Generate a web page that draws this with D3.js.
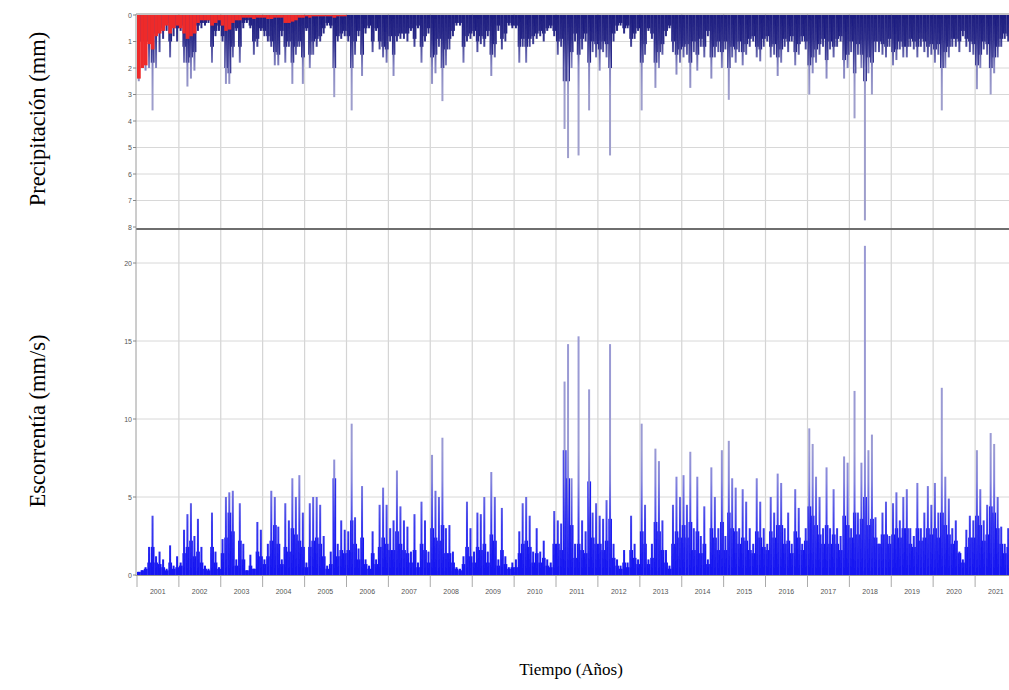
<!DOCTYPE html>
<html lang="es">
<head>
<meta charset="UTF-8">
<script src="https://cdn.jsdelivr.net/npm/d3@7"></script>
<title>Precipitación y escorrentía</title>
<style>
    body { margin: 0; background: #fff; }
    .tick-label { font-family: "Liberation Sans", Arial, sans-serif; font-size: 7px; fill: #555; }
    .title { font-family: "Liberation Serif", "Times New Roman", serif; font-size: 17px; fill: #000; }
    .ytitle { font-size: 22.5px; }
</style>
</head>
<body>
<svg id="chart" width="1009" height="690"></svg>
<script>
/*------------------------- data -------------------------*/
// one row per year, one value per month (Jan..Dec)
const yearLabels = ["2001","2002","2003","2004","2005","2006","2007","2008","2009","2010","2011",
                    "2012","2013","2014","2015","2016","2017","2018","2019","2020","2021"];
const precipTicks = [0, 1, 2, 3, 4, 5, 6, 7, 8];
const runoffTicks = [0, 5, 10, 15, 20];

// precipitation, highest daily value of the month (mm)
const precipPeak = [
    [2.5,1.8,2.1,2.0,3.6,2.0,1.4,0.9,0.6,1.6,0.8,1.0],
    [0.6,1.8,2.7,2.4,2.1,0.6,0.5,0.4,0.3,1.8,0.8,0.6],
    [1.0,2.6,2.6,1.6,0.6,1.8,0.5,0.3,0.5,1.5,1.2,0.6],
    [0.8,1.0,1.2,1.9,1.9,0.8,1.8,1.2,2.6,1.5,1.2,2.6],
    [0.6,2.0,1.5,1.2,1.0,0.7,0.4,0.5,3.1,1.0,0.9,0.8],
    [1.0,3.6,1.5,0.8,2.3,0.7,0.5,1.4,0.6,1.3,1.6,1.8],
    [1.0,2.3,1.0,0.9,0.9,1.0,0.6,1.2,0.5,1.8,1.0,0.7],
    [2.6,2.2,1.2,3.25,1.9,1.3,0.8,0.4,0.4,1.8,1.0,0.9],
    [0.8,1.4,1.1,1.2,0.8,2.3,1.6,0.6,1.3,1.0,0.4,0.5],
    [0.5,1.8,1.2,1.8,1.2,1.1,0.9,0.8,1.0,0.6,0.5,0.8],
    [1.5,1.2,4.3,5.4,2.0,1.0,5.3,1.3,1.0,3.6,1.4,1.6],
    [2.1,1.4,1.6,5.3,1.0,0.6,0.4,0.7,0.5,1.2,0.9,0.6],
    [3.6,1.5,0.6,0.9,2.75,2.0,1.5,0.8,0.5,1.4,2.25,1.8],
    [1.6,1.5,2.75,1.4,2.1,1.2,1.6,0.8,2.4,1.6,1.4,2.0],
    [1.3,3.2,1.6,1.8,1.4,1.9,1.5,1.2,1.0,1.6,1.75,1.2],
    [1.0,1.6,1.5,2.3,1.8,1.2,1.4,1.0,1.9,1.5,1.0,1.3],
    [3.0,2.2,1.8,1.5,1.2,2.4,1.3,1.6,1.2,1.0,2.4,2.0],
    [1.4,3.9,1.5,2.0,7.75,2.2,3.0,1.4,1.4,1.5,1.6,1.2],
    [1.9,1.7,1.3,1.6,1.6,1.2,1.3,1.6,1.2,1.4,1.6,1.5],
    [1.8,1.5,3.6,2.0,1.6,1.2,1.2,1.4,0.8,1.2,1.4,1.5],
    [2.8,2.0,1.3,1.5,3.0,2.2,1.6,1.2,0.9,1.0,0.8,0.8]
];
// precipitation, usual depth of the dense (excess) bars (mm)
const precipBase = [
    [1.0,1.0,1.0,1.0,1.8,0.7,0.6,0.5,0.3,1.0,0.4,0.5],
    [0.4,1.2,1.8,1.6,1.4,0.4,0.3,0.3,0.2,1.2,0.6,0.4],
    [0.8,2.0,2.2,1.2,0.5,1.2,0.3,0.2,0.4,1.0,0.9,0.5],
    [0.6,0.8,1.0,1.4,1.5,0.6,1.2,1.0,1.8,1.2,1.0,1.6],
    [0.5,1.5,1.0,0.9,0.8,0.5,0.3,0.4,2.0,0.8,0.7,0.6],
    [0.8,2.0,1.0,0.6,1.5,0.5,0.4,1.0,0.5,1.0,1.2,1.3],
    [0.8,1.5,0.8,0.7,0.7,0.7,0.5,0.9,0.4,1.2,0.8,0.5],
    [1.6,1.5,0.9,2.0,1.3,0.9,0.6,0.3,0.3,1.2,0.8,0.7],
    [0.6,1.0,0.8,0.9,0.6,1.5,1.1,0.4,0.9,0.7,0.3,0.4],
    [0.4,1.2,0.9,1.2,0.9,0.8,0.7,0.6,0.7,0.5,0.4,0.6],
    [1.0,0.9,2.5,2.5,1.4,0.7,1.5,0.9,0.7,1.8,1.0,1.1],
    [1.3,1.0,1.1,2.0,0.7,0.4,0.3,0.5,0.4,0.9,0.7,0.5],
    [1.8,1.1,0.5,0.7,1.8,1.4,1.1,0.6,0.4,1.0,1.5,1.3],
    [1.2,1.1,1.8,1.0,1.5,0.9,1.2,0.6,1.6,1.2,1.0,1.4],
    [1.0,2.0,1.2,1.3,1.0,1.4,1.1,0.9,0.8,1.2,1.3,0.9],
    [0.8,1.2,1.1,1.6,1.3,0.9,1.0,0.8,1.4,1.1,0.8,1.0],
    [1.9,1.6,1.3,1.1,0.9,1.7,1.0,1.2,0.9,0.8,1.7,1.5],
    [1.0,2.2,1.1,1.5,2.5,1.6,1.8,1.0,1.0,1.1,1.2,0.9],
    [1.4,1.3,1.0,1.2,1.2,0.9,1.0,1.2,0.9,1.0,1.2,1.1],
    [1.3,1.1,2.0,1.4,1.2,0.9,0.9,1.0,0.6,0.9,1.0,1.1],
    [1.9,1.5,1.0,1.1,2.0,1.6,1.2,0.9,0.7,0.8,0.6,0.6]
];
// precipitation loss shown in red, only the first years (mm)
const precipLoss = [
    [2.4,2.0,1.9,1.1,1.3,0.8,0.7,0.6,0.4,0.7,0.5,0.4],
    [0.5,0.7,0.9,0.8,0.7,0.3,0.2,0.2,0.2,0.4,0.3,0.2],
    [0.4,0.6,0.55,0.3,0.2,0.2,0.1,0.1,0.1,0.15,0.1,0.1],
    [0.1,0.15,0.15,0.1,0.1,0.1,0.3,0.3,0.25,0.2,0.1,0.1],
    [0.05,0.1,0.05,0.05,0.05,0.05,0.05,0.05,0.1,0.05,0.05,0.05]
];
// runoff, highest value of the month (mm/s)
const runoffPeak = [
    [0.2,0.3,0.5,1.8,3.8,1.2,1.5,1.0,0.4,1.9,0.6,1.2],
    [0.8,2.9,3.9,4.6,2.5,3.6,1.8,0.6,0.4,4.0,1.5,0.5],
    [2.3,5.0,5.3,5.4,1.0,4.6,2.0,0.3,1.3,0.4,3.4,2.9],
    [1.0,2.0,5.4,5.0,3.1,1.0,4.6,3.5,6.2,5.0,6.4,4.0],
    [0.8,4.6,5.0,5.0,4.5,2.5,0.6,1.5,7.4,2.0,3.5,2.9],
    [2.8,9.7,3.7,1.7,5.7,1.0,0.6,2.8,1.0,4.5,5.6,4.5],
    [3.0,3.5,6.7,4.4,3.5,3.1,1.5,3.9,0.8,4.7,3.5,1.5],
    [7.7,5.4,5.0,8.8,3.0,3.2,1.5,0.5,0.4,1.2,4.7,3.0],
    [1.5,4.0,3.9,5.0,1.5,6.6,5.0,1.0,4.3,1.2,0.5,0.8],
    [1.0,2.8,4.6,5.0,3.8,1.5,3.0,1.5,2.2,1.0,0.8,4.1],
    [3.5,3.3,12.4,14.8,6.2,2.0,15.3,3.5,2.8,11.9,4.0,4.6],
    [3.8,3.6,4.8,14.8,2.0,1.0,0.6,1.6,0.8,3.8,2.0,1.0],
    [9.7,4.5,1.0,2.0,8.1,7.3,3.5,1.6,0.6,4.5,6.3,5.0],
    [6.4,4.5,7.9,3.0,6.3,2.5,4.4,1.0,6.9,5.0,3.0,8.0],
    [2.5,8.6,6.2,5.6,3.0,5.5,4.7,3.0,2.0,6.2,4.7,3.0],
    [2.0,5.0,4.0,6.5,5.9,3.0,4.0,2.0,5.5,4.3,2.0,3.0],
    [9.4,8.4,6.3,5.0,3.0,6.9,3.0,5.5,3.0,2.5,7.6,7.2],
    [3.0,11.8,4.0,7.2,21.1,8.0,9.0,3.7,2.0,4.0,4.7,2.5],
    [4.6,5.3,3.5,5.0,5.5,3.0,2.5,5.9,3.0,4.0,5.7,4.5],
    [5.9,4.0,12.0,6.3,4.9,3.0,3.5,1.5,1.0,2.9,3.8,3.5],
    [8.0,5.5,3.5,4.5,9.1,8.4,5.0,3.1,2.0,3.0,2.5,2.0]
];
// runoff, level of the dense blue part (mm/s)
const runoffBase = [
    [0.2,0.3,0.4,0.8,1.8,0.8,0.7,0.5,0.3,0.8,0.4,0.5],
    [0.6,1.4,1.8,2.2,1.2,1.5,0.8,0.4,0.3,1.8,0.8,0.4],
    [1.4,2.4,4.0,2.8,0.6,2.2,1.0,0.3,0.6,0.4,1.5,1.2],
    [0.7,1.2,2.2,3.2,2.0,0.7,1.8,1.5,3.0,2.6,2.2,1.8],
    [0.5,1.8,2.2,2.4,2.0,1.2,0.4,0.7,6.2,1.2,1.6,1.4],
    [1.6,3.5,2.0,1.0,2.4,0.7,0.4,1.4,0.7,1.8,2.4,2.0],
    [1.6,1.6,2.8,2.0,1.6,1.4,0.8,1.6,0.5,2.0,1.6,0.8],
    [3.0,2.4,2.2,3.2,1.4,1.4,0.8,0.4,0.3,0.7,1.8,1.2],
    [0.8,1.8,1.6,2.0,0.8,2.6,2.2,0.6,1.6,0.7,0.4,0.5],
    [0.5,1.4,2.0,2.2,1.8,0.8,1.4,0.8,1.1,0.6,0.5,2.0],
    [2.0,1.6,8.0,6.2,3.2,1.1,2.0,1.6,1.4,6.0,2.4,2.0],
    [2.0,1.6,2.2,3.6,1.1,0.6,0.4,0.8,0.5,1.6,1.1,0.7],
    [2.8,2.0,0.7,1.1,3.4,2.8,1.6,0.8,0.4,2.0,2.8,2.4],
    [3.2,2.4,3.4,1.6,2.8,1.4,2.0,0.7,3.0,2.4,1.6,3.4],
    [1.6,4.0,3.0,2.8,2.0,2.4,2.2,1.6,1.4,2.8,2.4,1.8],
    [1.6,2.8,2.4,3.2,3.2,2.0,2.2,1.4,2.8,2.4,1.6,2.2],
    [4.4,3.8,3.2,2.6,2.0,3.2,2.0,2.6,2.0,1.6,3.8,3.2],
    [2.4,4.0,2.6,3.6,5.0,3.2,3.6,2.4,2.0,2.6,2.6,2.0],
    [2.6,3.0,2.4,3.0,3.0,2.0,1.8,3.0,2.2,2.4,3.0,2.6],
    [3.0,2.4,4.0,3.2,2.6,2.0,2.2,1.4,0.8,1.8,2.4,2.4],
    [3.8,3.2,2.2,2.6,4.4,4.0,3.0,2.0,1.4,1.8,1.6,1.4]
];

/*------------------------- records ----------------------*/
const months = d3.range(12);
const records = yearLabels.flatMap((yr, i) => months.map(m => ({
    start: new Date(+yr, m, 1),
    end: new Date(+yr, m + 1, 1),
    pPeak: precipPeak[i][m],
    pBase: precipBase[i][m],
    pLoss: precipLoss[i] ? precipLoss[i][m] : 0,
    qPeak: runoffPeak[i][m],
    qBase: runoffBase[i][m]
})));

/*------------------------- scales -----------------------*/
const svg = d3.select("#chart");
const left = 136, right = 1009;
const x = d3.scaleTime()
    .domain([new Date(2001, 0, 1), new Date(2022, 0, 1)])
    .range([137, 1017]);
const yP = d3.scaleLinear().domain([0, 8]).range([15, 227]);     // hyetograph, inverted
const yQ = d3.scaleLinear().domain([0, 20]).range([575, 263]);   // runoff
const sepY = 229;

const defs = svg.append("defs");
defs.append("clipPath").attr("id", "plotclip")
    .append("rect").attr("x", left).attr("y", 12).attr("width", right - left).attr("height", 564);
defs.append("filter").attr("id", "soft")
    .append("feGaussianBlur").attr("stdDeviation", 0.45);

// spikes darken where many daily bars overlap, so shade them by height
const pGrad = defs.append("linearGradient").attr("id", "pGrad")
    .attr("gradientUnits", "userSpaceOnUse")
    .attr("x1", 0).attr("x2", 0).attr("y1", yP(0)).attr("y2", yP(3));
pGrad.selectAll("stop").data([[0, "#1c1c7e"], [0.3, "#34348e"], [0.65, "#8585c2"], [1, "#9e9ecc"]])
    .enter().append("stop").attr("offset", d => d[0]).attr("stop-color", d => d[1]);

const qGrad = defs.append("linearGradient").attr("id", "qGrad")
    .attr("gradientUnits", "userSpaceOnUse")
    .attr("x1", 0).attr("x2", 0).attr("y1", yQ(0)).attr("y2", yQ(8));
qGrad.selectAll("stop").data([[0, "#1414f2"], [0.4, "#3a3aee"], [0.75, "#8484dc"], [1, "#9a9ad4"]])
    .enter().append("stop").attr("offset", d => d[0]).attr("stop-color", d => d[1]);

/*------------------------- grid -------------------------*/
const grid = svg.append("g").attr("clip-path", "url(#plotclip)");
const yearStarts = yearLabels.map(yr => new Date(+yr, 0, 1)).concat([new Date(2022, 0, 1)]);

grid.selectAll("line.vgrid").data(yearStarts.slice(1)).enter().append("line")
    .attr("x1", d => x(d)).attr("x2", d => x(d))
    .attr("y1", 14).attr("y2", 575)
    .attr("stroke", "#d4d4d4").attr("stroke-width", 1.2);

grid.selectAll("line.pgrid").data(precipTicks.slice(1, -1)).enter().append("line")
    .attr("x1", left).attr("x2", right)
    .attr("y1", d => yP(d)).attr("y2", d => yP(d))
    .attr("stroke", "#d8d8d8").attr("stroke-width", 1);

grid.selectAll("line.qgrid").data(runoffTicks.slice(1)).enter().append("line")
    .attr("x1", left).attr("x2", right)
    .attr("y1", d => yQ(d)).attr("y2", d => yQ(d))
    .attr("stroke", "#d8d8d8").attr("stroke-width", 1);

/*------------------------- marks ------------------------*/
const marks = svg.append("g").attr("clip-path", "url(#plotclip)")
    .append("g").attr("filter", "url(#soft)");
const mid = d => x(new Date((+d.start + +d.end) / 2));
const spikeW = 2;

// precipitation: spikes, dense navy part, red loss on top
marks.selectAll("rect.pBase").data(records).enter().append("rect")
    .attr("x", d => x(d.start)).attr("width", d => x(d.end) - x(d.start) + 0.2)
    .attr("y", yP(0)).attr("height", d => yP(d.pBase) - yP(0))
    .attr("fill", "#1f1f82");

marks.selectAll("rect.pPeak").data(records).enter().append("rect")
    .attr("x", d => mid(d) - spikeW / 2).attr("width", spikeW)
    .attr("y", yP(0)).attr("height", d => yP(d.pPeak) - yP(0))
    .attr("fill", "url(#pGrad)");

marks.selectAll("rect.pLoss").data(records.filter(d => d.pLoss > 0)).enter().append("rect")
    .attr("x", d => x(d.start)).attr("width", d => x(d.end) - x(d.start) + 0.2)
    .attr("y", yP(0)).attr("height", d => yP(d.pLoss) - yP(0))
    .attr("fill", "#ee2b2b");

// runoff: dense blue part and spikes
marks.selectAll("rect.qBase").data(records).enter().append("rect")
    .attr("x", d => x(d.start)).attr("width", d => x(d.end) - x(d.start) + 0.2)
    .attr("y", d => yQ(d.qBase)).attr("height", d => yQ(0) - yQ(d.qBase))
    .attr("fill", "#1414f2");

marks.selectAll("rect.qPeak").data(records).enter().append("rect")
    .attr("x", d => mid(d) - spikeW / 2).attr("width", spikeW)
    .attr("y", d => yQ(d.qPeak)).attr("height", d => yQ(0) - yQ(d.qPeak))
    .attr("fill", "url(#qGrad)");

/*------------------------- frame & axes -----------------*/
svg.append("line").attr("x1", left).attr("x2", right).attr("y1", 14).attr("y2", 14)
    .attr("stroke", "#8a8a8a").attr("stroke-width", 1.2);
svg.append("line").attr("x1", left).attr("x2", right).attr("y1", sepY).attr("y2", sepY)
    .attr("stroke", "#6e6e6e").attr("stroke-width", 2.2);
svg.append("line").attr("x1", left).attr("x2", left).attr("y1", 14).attr("y2", 576)
    .attr("stroke", "#9a9a9a").attr("stroke-width", 1);
svg.append("line").attr("x1", left).attr("x2", right).attr("y1", 575.5).attr("y2", 575.5)
    .attr("stroke", "#9a9a9a").attr("stroke-width", 1);

svg.selectAll("text.pTick").data(precipTicks).enter().append("text")
    .attr("class", "tick-label")
    .attr("x", 132).attr("y", d => yP(d) + 2.5)
    .attr("text-anchor", "end")
    .text(d => d);
svg.selectAll("line.pTickMark").data(precipTicks).enter().append("line")
    .attr("x1", 133).attr("x2", left).attr("y1", d => yP(d)).attr("y2", d => yP(d))
    .attr("stroke", "#888");

svg.selectAll("text.qTick").data(runoffTicks).enter().append("text")
    .attr("class", "tick-label")
    .attr("x", 132).attr("y", d => yQ(d) + 2.5)
    .attr("text-anchor", "end")
    .text(d => d);
svg.selectAll("line.qTickMark").data(runoffTicks).enter().append("line")
    .attr("x1", 133).attr("x2", left).attr("y1", d => yQ(d)).attr("y2", d => yQ(d))
    .attr("stroke", "#888");

svg.selectAll("line.xTick").data(yearStarts.filter(d => x(d) <= right)).enter().append("line")
    .attr("x1", d => x(d)).attr("x2", d => x(d))
    .attr("y1", 576).attr("y2", 587)
    .attr("stroke", "#aaa");

svg.selectAll("text.year").data(yearLabels).enter().append("text")
    .attr("class", "tick-label")
    .attr("x", d => x(new Date(+d, 6, 1)))
    .attr("y", 594)
    .attr("text-anchor", "middle")
    .text(d => d);

/*------------------------- titles -----------------------*/
svg.append("text").attr("class", "title ytitle")
    .attr("transform", "translate(45,119) rotate(-90)")
    .attr("text-anchor", "middle")
    .text("Precipitación (mm)");
svg.append("text").attr("class", "title ytitle")
    .attr("transform", "translate(45,421) rotate(-90)")
    .attr("text-anchor", "middle")
    .text("Escorrentía (mm/s)");
svg.append("text").attr("class", "title")
    .attr("x", 571).attr("y", 675)
    .attr("text-anchor", "middle")
    .text("Tiempo (Años)");
</script>
</body>
</html>
